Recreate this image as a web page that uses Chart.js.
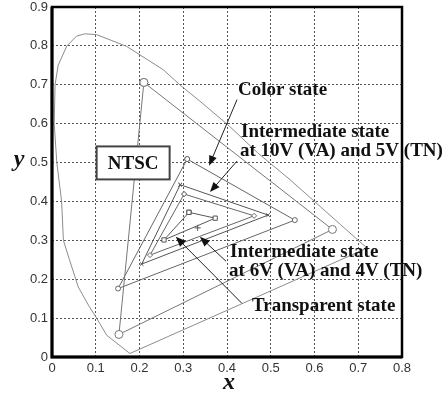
<!DOCTYPE html>
<html>
<head>
<meta charset="utf-8">
<script src="https://cdn.jsdelivr.net/npm/chart.js@4.4.0/dist/chart.umd.min.js"></script>
<style>
  body { margin: 0; background: #fff; }
</style>
</head>
<body>
<canvas id="myChart" width="443" height="393"></canvas>
<script>
// tick labels
const xTickLabels = ['0', '0.1', '0.2', '0.3', '0.4', '0.5', '0.6', '0.7', '0.8'];
const yTickLabels = ['0', '0.1', '0.2', '0.3', '0.4', '0.5', '0.6', '0.7', '0.8', '0.9'];

// spectral locus, closed by the line of purples
const locusX = [0.178, 0.125, 0.102, 0.085, 0.06, 0.04, 0.026, 0.022, 0.011, 0.005, 0.007, 0.014, 0.034, 0.056, 0.075, 0.102, 0.17, 0.254, 0.292, 0.338, 0.406, 0.47, 0.544, 0.60, 0.66, 0.72, 0.178];
const locusY = [0.009, 0.056, 0.10, 0.13, 0.18, 0.25, 0.30, 0.40, 0.50, 0.60, 0.70, 0.75, 0.80, 0.825, 0.831, 0.829, 0.799, 0.739, 0.70, 0.658, 0.593, 0.525, 0.456, 0.40, 0.34, 0.28, 0.009];

// triangles
const ntscX = [0.21, 0.641, 0.153];
const ntscY = [0.706, 0.328, 0.058];
const colorX = [0.309, 0.555, 0.151];
const colorY = [0.509, 0.352, 0.176];
const mid10X = [0.293, 0.494, 0.205];
const mid10Y = [0.443, 0.365, 0.239];
const mid6X = [0.302, 0.462, 0.224];
const mid6Y = [0.419, 0.363, 0.262];
const clearX = [0.313, 0.373, 0.256];
const clearY = [0.372, 0.357, 0.301];
const whiteX = [0.333];
const whiteY = [0.332];

// labels and arrows
const notes = [
  { lines: ['Color state'], x: 0.425, y: 0.675, arrow: [0.423, 0.662, 0.359, 0.492] },
  { lines: ['Intermediate state', 'at 10V (VA) and 5V (TN)'], x: 0.432, y: 0.566, arrow: [0.423, 0.504, 0.361, 0.424] },
  { lines: ['Intermediate state', 'at 6V (VA) and 4V (TN)'], x: 0.407, y: 0.258, arrow: [0.398, 0.246, 0.338, 0.309] },
  { lines: ['Transparent state'], x: 0.457, y: 0.118, arrow: [0.434, 0.138, 0.283, 0.309] }
];

function pts(xs, ys, close) {
  const p = xs.map((x, i) => ({ x: x, y: ys[i] }));
  if (close) p.push(p[0]);
  return p;
}

function tri(label, xs, ys, style, radius, color) {
  return {
    label: label,
    data: pts(xs, ys, true),
    showLine: true,
    borderColor: color,
    borderWidth: 1,
    pointStyle: style,
    pointRadius: radius,
    pointBorderColor: color,
    pointBackgroundColor: '#fff',
    pointBorderWidth: 1
  };
}

function drawArrow(ctx, x1, y1, x2, y2) {
  const a = Math.atan2(y2 - y1, x2 - x1);
  const len = 10, w = 4;
  ctx.beginPath();
  ctx.moveTo(x1, y1);
  ctx.lineTo(x2 - Math.cos(a) * len * 0.8, y2 - Math.sin(a) * len * 0.8);
  ctx.stroke();
  ctx.beginPath();
  ctx.moveTo(x2, y2);
  ctx.lineTo(x2 - Math.cos(a) * len - Math.sin(a) * w, y2 - Math.sin(a) * len + Math.cos(a) * w);
  ctx.lineTo(x2 - Math.cos(a) * len + Math.sin(a) * w, y2 - Math.sin(a) * len - Math.cos(a) * w);
  ctx.closePath();
  ctx.fill();
}

const extras = {
  id: 'extras',
  afterDatasetsDraw(chart) {
    const ctx = chart.ctx;
    const xs = chart.scales.x, ys = chart.scales.y;
    const a = chart.chartArea;
    ctx.save();

    // frame
    ctx.strokeStyle = '#000';
    ctx.lineWidth = 2.5;
    ctx.strokeRect(a.left, a.top, a.right - a.left, a.bottom - a.top);
    ctx.lineWidth = 3;
    ctx.beginPath();
    ctx.moveTo(a.left, a.top);
    ctx.lineTo(a.left, a.bottom);
    ctx.lineTo(a.right, a.bottom);
    ctx.stroke();

    // NTSC box
    const bx = xs.getPixelForValue(0.102), by = ys.getPixelForValue(0.5415);
    const bw = 73, bh = 33;
    ctx.fillStyle = '#fff';
    ctx.fillRect(bx, by, bw, bh);
    ctx.strokeStyle = '#444';
    ctx.lineWidth = 2;
    ctx.strokeRect(bx, by, bw, bh);
    ctx.fillStyle = '#111';
    ctx.font = 'bold 19px "Liberation Serif"';
    ctx.textAlign = 'center';
    ctx.textBaseline = 'middle';
    ctx.fillText('NTSC', bx + bw / 2, by + bh / 2 + 1);

    // arrows and labels
    ctx.strokeStyle = '#222';
    ctx.fillStyle = '#111';
    ctx.lineWidth = 1;
    notes.forEach(n => {
      const r = n.arrow;
      drawArrow(ctx, xs.getPixelForValue(r[0]), ys.getPixelForValue(r[1]),
        xs.getPixelForValue(r[2]), ys.getPixelForValue(r[3]));
    });
    ctx.font = 'bold 19px "Liberation Serif"';
    ctx.textAlign = 'left';
    ctx.textBaseline = 'alphabetic';
    notes.forEach(n => {
      const px = xs.getPixelForValue(n.x), py = ys.getPixelForValue(n.y);
      n.lines.forEach((t, i) => ctx.fillText(t, px - (i ? 1 : 0), py + i * 19));
    });

    // axis titles
    ctx.font = 'italic bold 24px "Liberation Serif"';
    ctx.textAlign = 'center';
    ctx.fillText('y', 19, 166);
    ctx.fillText('x', (a.left + a.right) / 2 + 2, 389);
    ctx.restore();
  }
};

const config = {
  type: 'scatter',
  data: {
    datasets: [
      {
        label: 'Spectral locus',
        data: pts(locusX, locusY, false),
        showLine: true,
        borderColor: '#8c8c8c',
        borderWidth: 1,
        pointRadius: 0
      },
      tri('NTSC', ntscX, ntscY, 'circle', 4, '#777'),
      tri('Color state', colorX, colorY, 'circle', 2.5, '#666'),
      tri('10V / 5V', mid10X, mid10Y, 'crossRot', 2.5, '#555'),
      tri('6V / 4V', mid6X, mid6Y, 'rectRot', 2.5, '#666'),
      tri('Transparent state', clearX, clearY, 'rect', 3, '#555'),
      {
        label: 'White',
        data: pts(whiteX, whiteY, false),
        pointStyle: 'cross',
        pointRadius: 3,
        pointBorderColor: '#555',
        pointBorderWidth: 1
      }
    ]
  },
  options: {
    responsive: false,
    animation: false,
    layout: { padding: { left: 0, top: 7, right: 41, bottom: 0 } },
    plugins: {
      legend: { display: false },
      tooltip: { enabled: false }
    },
    scales: {
      x: {
        type: 'linear',
        min: 0,
        max: 0.8,
        afterFit: s => { s.height = 36; s.paddingLeft = 0; s.paddingRight = 0; },
        afterBuildTicks: s => { s.ticks = xTickLabels.map(v => ({ value: parseFloat(v) })); },
        ticks: {
          padding: 4,
          color: '#333',
          font: { family: '"Liberation Sans"', size: 13 },
          callback: (v, i) => xTickLabels[i]
        },
        grid: { color: '#555', lineWidth: 1, drawTicks: false },
        border: { display: false, dash: [2, 2] }
      },
      y: {
        type: 'linear',
        min: 0,
        max: 0.9,
        afterFit: s => { s.width = 52; s.paddingTop = 0; s.paddingBottom = 0; },
        afterBuildTicks: s => { s.ticks = yTickLabels.map(v => ({ value: parseFloat(v) })); },
        ticks: {
          padding: 4,
          color: '#333',
          font: { family: '"Liberation Sans"', size: 13 },
          callback: (v, i) => yTickLabels[i]
        },
        grid: { color: '#555', lineWidth: 1, drawTicks: false },
        border: { display: false, dash: [2, 2] }
      }
    }
  },
  plugins: [extras]
};

new Chart(document.getElementById('myChart'), config);
</script>
</body>
</html>
